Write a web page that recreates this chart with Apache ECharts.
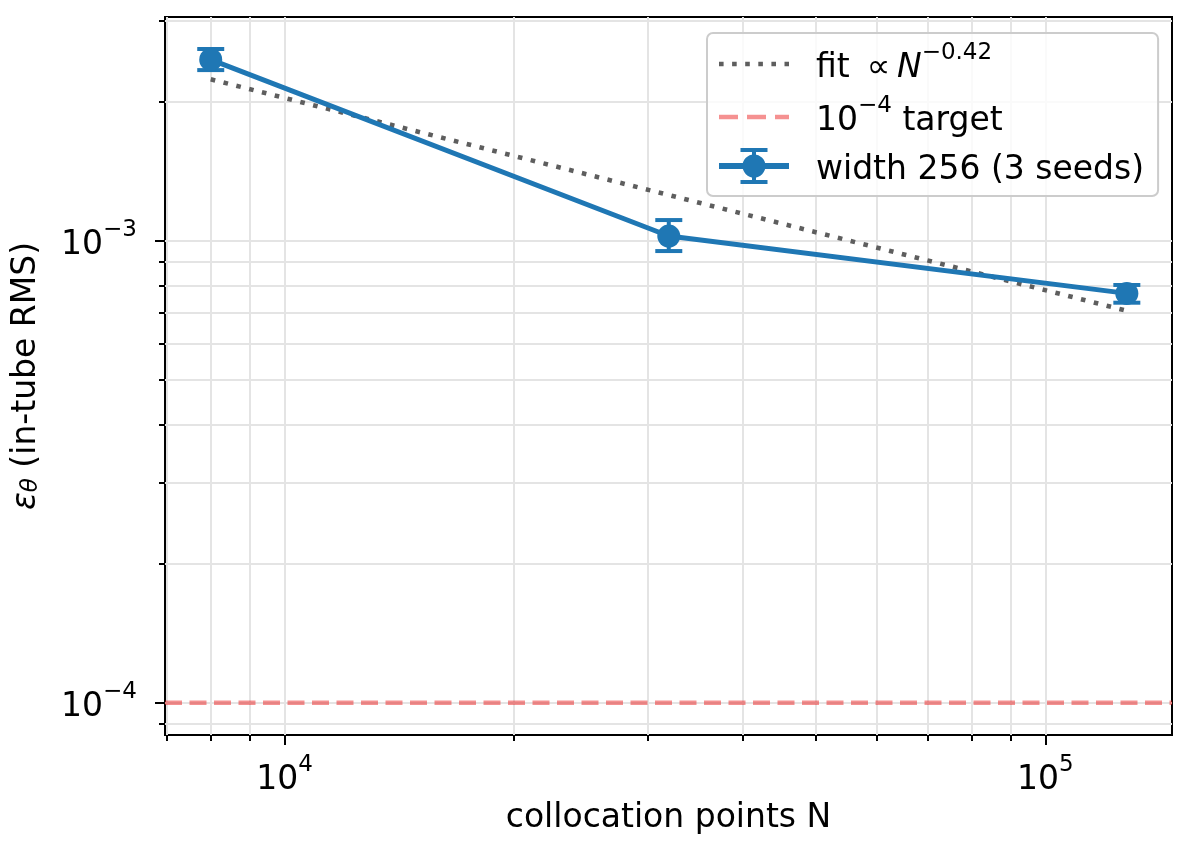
<!DOCTYPE html>
<html>
<head>
<meta charset="utf-8">
<title>collocation convergence</title>
<script src="https://cdn.jsdelivr.net/npm/echarts@6.0.0/dist/echarts.min.js"></script>
<style>
html, body { margin: 0; padding: 0; background: #fff; }
#chart { width: 1188px; height: 851px; }
</style>
</head>
<body>
<div id="chart"></div>
<script>
// values
var nPoints = [8000, 32000, 128000];
var errMean = [0.00247, 0.001025, 0.00077];
var errLow = [0.002345, 0.000951, 0.000735];
var errHigh = [0.002605, 0.00111, 0.000803];

var fitN = [8000, 128000];
var fitErr = [0.00224, 0.000706];
var targetErr = 1e-4;

var xMajorTicks = [1e4, 1e5];
var xMinorTicks = [7000, 8000, 9000, 20000, 30000, 40000, 50000, 60000, 70000, 80000, 90000];
var yMajorTicks = [1e-4, 1e-3];
var yMinorTicks = [9e-5, 2e-4, 3e-4, 4e-4, 5e-4, 6e-4, 7e-4, 8e-4, 9e-4, 2e-3, 3e-3];

var xRange = [6966, 146750];
var yRange = [8.51e-5, 0.003056];

var seriesNames = ['fit \u221d N^-0.42', '10^-4 target', 'width 256 (3 seeds)'];

var FONT = 'DejaVu Sans';
var BLUE = '#1f77b4';
var GRAY = '#5e5e5e';
var RED = 'rgba(235,25,25,0.48)';
var GRID = '#e4e4e4';

function zip(xs, ys) {
    var arr = [];
    for (var i = 0; i < xs.length; i++) {
        arr.push([xs[i], ys[i]]);
    }
    return arr;
}

var barData = [];
for (var i = 0; i < nPoints.length; i++) {
    barData.push([nPoints[i], errLow[i], errHigh[i]]);
}

var rich = {
    t: { fontFamily: FONT, fontSize: 33, lineHeight: 42, verticalAlign: 'bottom', color: '#000' },
    tp: { fontFamily: FONT, fontSize: 33, lineHeight: 42, verticalAlign: 'bottom', color: '#000', padding: [0, 0, 0, 22] },
    i: { fontFamily: FONT, fontSize: 33, fontStyle: 'italic', lineHeight: 42, verticalAlign: 'bottom', color: '#000' },
    sup: { fontFamily: FONT, fontSize: 23, lineHeight: 22, padding: [0, 0, 20, 0], verticalAlign: 'bottom', color: '#000' },
    e: { fontFamily: FONT, fontSize: 33, fontStyle: 'italic', lineHeight: 42, verticalAlign: 'bottom', color: '#000' },
    sub: { fontFamily: FONT, fontSize: 23, fontStyle: 'italic', lineHeight: 22, padding: [20, 0, 0, 0], verticalAlign: 'bottom', color: '#000' }
};

var legendText = {};
legendText[seriesNames[0]] = '{tp|fit \u2009\u221d\u2009}{i|N}{sup|\u22120.42}';
legendText[seriesNames[1]] = '{tp|10}{sup|\u22124}{t| target}';
legendText[seriesNames[2]] = '{tp|width 256 (3 seeds)}';

function powLabel(v) {
    var e = Math.round(Math.log10(v));
    return '{t|10}{sup|' + String(e).replace('-', '\u2212') + '}';
}

var iconDots = 'path://M0 0L4.6 0L4.6 4.6L0 4.6Z M13.1 0L17.7 0L17.7 4.6L13.1 4.6Z M26.2 0L30.8 0L30.8 4.6L26.2 4.6Z M39.3 0L43.9 0L43.9 4.6L39.3 4.6Z M52.4 0L57 0L57 4.6L52.4 4.6Z M65.5 0L70 0L70 4.6L65.5 4.6Z';
var iconDash = 'path://M0 0L19 0L19 4.5L0 4.5Z M28 0L47 0L47 4.5L28 4.5Z M56 0L70 0L70 4.5L56 4.5Z';
var iconErr = 'path://M0 15L70 15L70 21L0 21Z M21.5 0L48.5 0L48.5 4L21.5 4Z M21.5 32L48.5 32L48.5 36L21.5 36Z M33 0L37 0L37 36L33 36Z M23.5 18A11.5 11.5 0 1 1 46.5 18A11.5 11.5 0 1 1 23.5 18Z';

function tickAxis(range, ticks, len, extra) {
    var ax = {
        type: 'log',
        logBase: 10,
        min: range[0],
        max: range[1],
        axisLine: { show: false, onZero: false },
        axisTick: { show: true, customValues: ticks, length: len, lineStyle: { color: '#000', width: 2 } },
        axisLabel: { show: false },
        splitLine: { show: true, lineStyle: { color: GRID, width: 2 } },
        minorTick: { show: false },
        minorSplitLine: { show: false }
    };
    for (var k in extra) {
        ax[k] = extra[k];
    }
    return ax;
}

var myChart = echarts.init(document.getElementById('chart'));

var option = {
    animation: false,
    backgroundColor: '#fff',
    grid: {
        left: 165,
        right: 16,
        top: 17,
        bottom: 116,
        containLabel: false,
        outerBoundsMode: 'none',
        show: true,
        borderColor: '#000',
        borderWidth: 2,
        backgroundColor: 'transparent'
    },
    legend: {
        left: 707,
        top: 33,
        orient: 'vertical',
        selectedMode: false,
        padding: [9, 14, 9, 12],
        itemWidth: 70,
        itemHeight: 36,
        itemGap: 10,
        backgroundColor: 'rgba(255,255,255,0.8)',
        borderColor: '#cccccc',
        borderWidth: 2,
        borderRadius: 6,
        itemStyle: { borderWidth: 0 },
        textStyle: { fontFamily: FONT, fontSize: 33, rich: rich },
        formatter: function(name) {
            return legendText[name];
        },
        data: [
            { name: seriesNames[0], icon: iconDots },
            { name: seriesNames[1], icon: iconDash },
            { name: seriesNames[2], icon: iconErr }
        ]
    },
    xAxis: [
        tickAxis(xRange, xMajorTicks, 10, {
            position: 'bottom',
            name: 'collocation points N',
            nameLocation: 'middle',
            nameGap: 64,
            nameTextStyle: { fontFamily: FONT, fontSize: 33, color: '#000' },
            axisLabel: { show: true, customValues: xMajorTicks, formatter: powLabel, rich: rich, margin: 20 }
        }),
        tickAxis(xRange, xMinorTicks, 6, { position: 'bottom' })
    ],
    yAxis: [
        tickAxis(yRange, yMajorTicks, 10, {
            position: 'left',
            name: '{e|\u03b5}{sub|\u03b8}{t| (in-tube RMS)}',
            nameLocation: 'middle',
            nameGap: 122,
            nameRotate: 90,
            nameTextStyle: { fontFamily: FONT, fontSize: 33, color: '#000', rich: rich },
            axisLabel: { show: true, customValues: yMajorTicks, formatter: powLabel, rich: rich, margin: 28 }
        }),
        tickAxis(yRange, yMinorTicks, 6, { position: 'left' })
    ],
    series: [{
        name: seriesNames[0],
        type: 'line',
        xAxisIndex: 0,
        yAxisIndex: 0,
        symbol: 'none',
        color: GRAY,
        lineStyle: { color: GRAY, width: 4.6, type: [4.6, 8.6], cap: 'butt' },
        z: 2,
        data: zip(fitN, fitErr)
    }, {
        // horizontal target line across the full x range
        name: seriesNames[1],
        type: 'line',
        xAxisIndex: 0,
        yAxisIndex: 0,
        symbol: 'none',
        color: RED,
        lineStyle: { color: RED, width: 4.5, type: [17, 7.5], cap: 'butt' },
        z: 2,
        data: zip(xRange, [targetErr, targetErr])
    }, {
        name: 'error bars',
        type: 'custom',
        xAxisIndex: 0,
        yAxisIndex: 0,
        z: 3,
        encode: { x: 0, y: [1, 2] },
        renderItem: function(params, api) {
            var x = api.value(0);
            var lo = api.coord([x, api.value(1)]);
            var hi = api.coord([x, api.value(2)]);
            var cap = 13.5;
            var st = { stroke: BLUE, lineWidth: 4 };
            return {
                type: 'group',
                children: [
                    { type: 'line', shape: { x1: lo[0], y1: lo[1], x2: hi[0], y2: hi[1] }, style: st },
                    { type: 'line', shape: { x1: lo[0] - cap, y1: lo[1], x2: lo[0] + cap, y2: lo[1] }, style: st },
                    { type: 'line', shape: { x1: hi[0] - cap, y1: hi[1], x2: hi[0] + cap, y2: hi[1] }, style: st }
                ]
            };
        },
        data: barData
    }, {
        name: seriesNames[2],
        type: 'line',
        xAxisIndex: 0,
        yAxisIndex: 0,
        symbol: 'circle',
        symbolSize: 23,
        color: BLUE,
        itemStyle: { color: BLUE, borderWidth: 0 },
        lineStyle: { color: BLUE, width: 5 },
        z: 4,
        data: zip(nPoints, errMean)
    }]
};

myChart.setOption(option);
</script>
</body>
</html>
